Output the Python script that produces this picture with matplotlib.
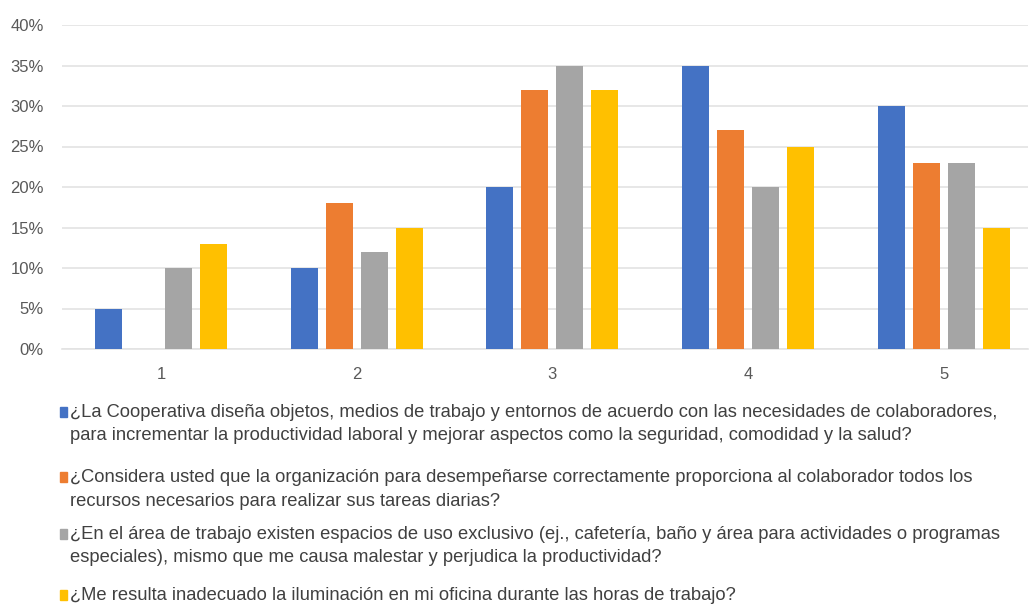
import matplotlib
matplotlib.use("Agg")
from matplotlib import pyplot as plt
from matplotlib.patches import Rectangle
from matplotlib.ticker import PercentFormatter
import numpy as np

plt.rcParams['font.family'] = ['Liberation Sans', 'DejaVu Sans']

# survey answers per scale point 1..5
categories = ["1", "2", "3", "4", "5"]
cooperativa = [0.05, 0.10, 0.20, 0.35, 0.30]
recursos = [0.00, 0.18, 0.32, 0.27, 0.23]
espacios = [0.10, 0.12, 0.35, 0.20, 0.23]
iluminacion = [0.13, 0.15, 0.32, 0.25, 0.15]

labels = [
    "¿La Cooperativa diseña objetos, medios de trabajo y entornos de acuerdo con las necesidades de colaboradores,\n"
    "para incrementar la productividad laboral y mejorar aspectos como la seguridad, comodidad y la salud?",
    "¿Considera usted que la organización para desempeñarse correctamente proporciona al colaborador todos los\n"
    "recursos necesarios para realizar sus tareas diarias?",
    "¿En el área de trabajo existen espacios de uso exclusivo (ej., cafetería, baño y área para actividades o programas\n"
    "especiales), mismo que me causa malestar y perjudica la productividad?",
    "¿Me resulta inadecuado la iluminación en mi oficina durante las horas de trabajo?",
]
colors = ["#4472C4", "#ED7D31", "#A5A5A5", "#FFC000"]
series = [cooperativa, recursos, espacios, iluminacion]

fig = plt.figure(figsize=(10.3, 6.04), dpi=100)
ax = fig.add_axes([62/1030, 255/604, 966/1030, 324/604])

x = np.arange(len(categories))
w = 0.138
step = 0.179
for i, (vals, c) in enumerate(zip(series, colors)):
    ax.bar(x + (i - 1.5)*step, vals, width=w, color=c, zorder=3)

ax.set_xlim(-0.506, 4.43)
ax.set_ylim(0, 0.40)
ax.set_yticks(np.arange(0, 0.41, 0.05))
ax.yaxis.set_major_formatter(PercentFormatter(1.0, decimals=0))
ax.set_xticks(x)
ax.set_xticklabels(categories)
ax.grid(axis='y', color='#E3E3E3', linewidth=1.2, zorder=0)
for s in ['top', 'right', 'left']:
    ax.spines[s].set_visible(False)
ax.spines['bottom'].set_color('#E3E3E3')
ax.spines['bottom'].set_linewidth(1.2)
ax.tick_params(axis='both', length=0, labelsize=12, labelcolor='#595959')
ax.tick_params(axis='x', pad=13)
ax.tick_params(axis='y', pad=13)

# legend drawn by hand, one block per question
rows = [412, 477, 534, 595]
for lab, c, y in zip(labels, colors, rows):
    fig.add_artist(Rectangle((60/1030, 1 - (y + 5)/604), 7/1030, 10/604,
                             transform=fig.transFigure, color=c))
    fig.text(70/1030, 1 - (y - 8)/604, lab, fontsize=13.2, color='#404040',
             va='top', ha='left', linespacing=1.5)

fig.savefig("out.png", dpi=100)
